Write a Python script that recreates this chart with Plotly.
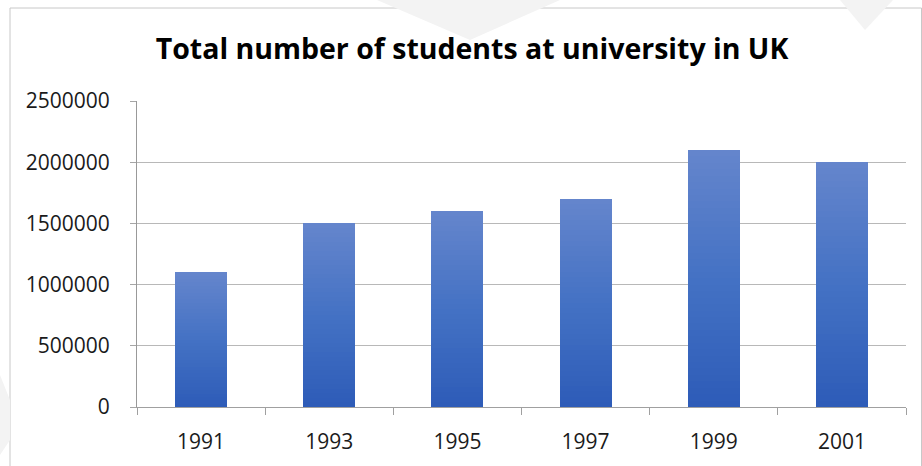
import plotly.graph_objects as go

# ---- data ----
years = ["1991", "1993", "1995", "1997", "1999", "2001"]
students = [1100000, 1500000, 1600000, 1700000, 2100000, 2000000]
y_ticks = [0, 500000, 1000000, 1500000, 2000000, 2500000]
title_text = "Total number of students at university in UK"

W, H = 922, 466
L, R, T, B = 137, 16, 101, 59
PW, PH = W - L - R, H - T - B


def px(x):
    return (x - L) / PW


def py(y):
    return 1 + (T - y) / PH


# gradient: bottom dark -> top light (Excel-like)
stops = [(0.0, (46, 92, 184)), (0.5, (68, 114, 196)), (1.0, (100, 133, 204))]


def grad(t):
    for (t0, c0), (t1, c1) in zip(stops[:-1], stops[1:]):
        if t <= t1:
            f = (t - t0) / (t1 - t0)
            return "rgb(%d,%d,%d)" % tuple(round(a + (b - a) * f) for a, b in zip(c0, c1))
    return "rgb(%d,%d,%d)" % stops[-1][1]


K = 40
fig = go.Figure()
for k in range(K):
    fig.add_trace(go.Bar(
        x=years,
        y=[v / K for v in students],
        marker=dict(color=grad(k / (K - 1)), line=dict(width=0)),
        showlegend=False,
        hoverinfo="skip",
    ))

font_family = "Open Sans, Lato, sans-serif"
text_color = "#1a1a1a"

fig.update_layout(
    width=W, height=H,
    margin=dict(l=L, r=R, t=T, b=B, pad=0),
    paper_bgcolor="white",
    plot_bgcolor="white",
    barmode="stack",
    bargap=0.594,
    title=dict(
        text="<b>" + title_text + "</b>",
        x=472 / W, xanchor="center", xref="container",
        y=1 - 49 / H, yanchor="middle", yref="container",
        font=dict(family=font_family, size=28.5, color="#000000"),
    ),
    font=dict(family=font_family, size=21, color=text_color),
)

fig.update_xaxes(
    type="category",
    categoryorder="array", categoryarray=years,
    showline=True, linecolor="#a0a0a0", linewidth=1,
    ticks="outside", ticklen=7, tickcolor="#a0a0a0", tickwidth=1,
    tickson="boundaries",
    showgrid=False,
    ticklabelstandoff=16,
    tickfont=dict(size=21, color=text_color),
    fixedrange=True,
)

fig.update_yaxes(
    range=[0, 2500000],
    tickvals=y_ticks,
    ticktext=[str(v) for v in y_ticks],
    showline=True, linecolor="#999999", linewidth=1,
    ticks="outside", ticklen=6, tickcolor="#a6a6a6", tickwidth=1,
    showgrid=True, gridcolor="#b8b8b8", gridwidth=1,
    zeroline=False,
    ticklabelstandoff=16,
    tickfont=dict(size=21, color=text_color),
    fixedrange=True,
)

# chart-area border (Excel style) and faint background watermark
shapes = [
    dict(type="rect", xref="paper", yref="paper",
         x0=px(10), x1=px(921.5), y0=py(500), y1=py(8),
         line=dict(color="#c8c8c8", width=1), fillcolor="rgba(0,0,0,0)", layer="below"),
]
wm = "#f3f3f3"
polys = [
    [(377, 0), (560, 0), (470, 40)],
    [(840, 0), (893, 0), (865, 30)],
    [(0, 375), (10, 400), (10, 440), (0, 455)],
]
for poly in polys:
    path = "M " + " L ".join("%f,%f" % (px(x), py(y)) for x, y in poly) + " Z"
    shapes.append(dict(type="path", xref="paper", yref="paper", path=path,
                       fillcolor=wm, line=dict(width=0), layer="below"))
fig.update_layout(shapes=shapes)

fig.write_html("out.html", config={"displayModeBar": False},
               post_script="document.body.style.margin='0';document.body.style.overflow='hidden';")
